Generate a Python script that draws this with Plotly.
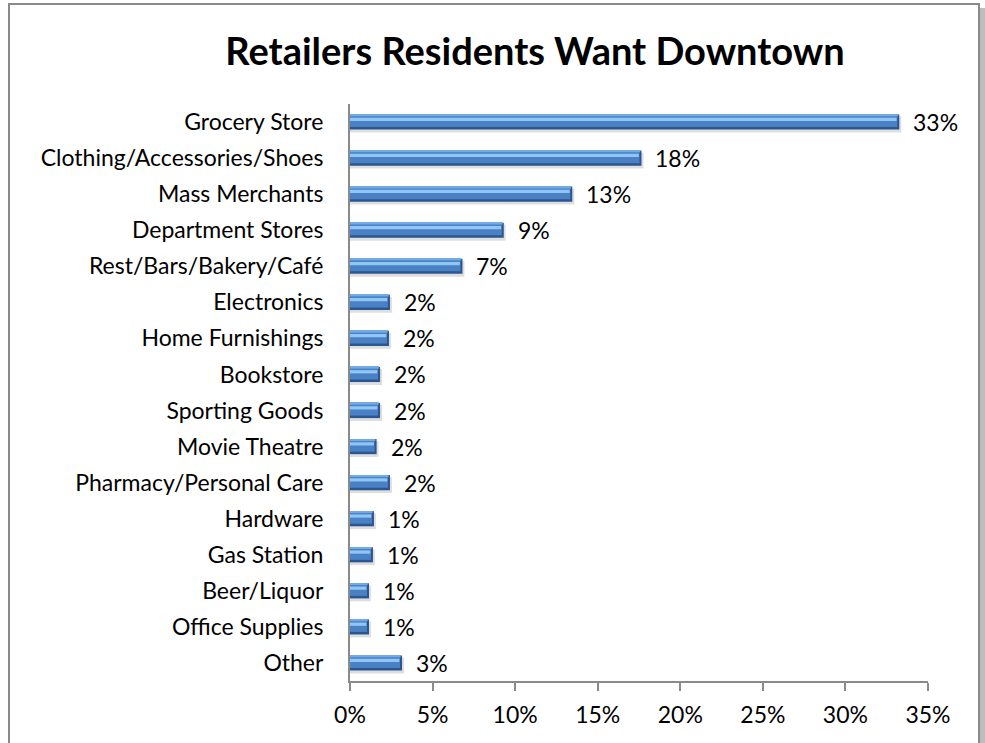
import plotly.graph_objects as go

# Survey results: share of residents naming each retailer type
categories = [
    "Grocery Store", "Clothing/Accessories/Shoes", "Mass Merchants",
    "Department Stores", "Rest/Bars/Bakery/Café", "Electronics",
    "Home Furnishings", "Bookstore", "Sporting Goods", "Movie Theatre",
    "Pharmacy/Personal Care", "Hardware", "Gas Station", "Beer/Liquor",
    "Office Supplies", "Other",
]
shares = [0.3326, 0.1765, 0.1346, 0.0931, 0.0681, 0.0242, 0.0236, 0.0182,
          0.0182, 0.0161, 0.0242, 0.0145, 0.0139, 0.0115, 0.0115, 0.0315]
x_ticks = [0, 0.05, 0.10, 0.15, 0.20, 0.25, 0.30, 0.35]
x_tick_labels = ["0%", "5%", "10%", "15%", "20%", "25%", "30%", "35%"]

W, H = 985, 743
L, R, T, B = 350, 57, 104, 62
FONT = "Lato"
FS = 23

pos = list(range(len(categories)))

def px_x(px):
    return (px - L) / (W - L - R)

def px_y(py):
    return 1 - (py - T) / (H - T - B)

fig = go.Figure()

# Layered bars give the bevelled, shaded look
layers = [
    # (colour, offset, width, x-trim)
    ("rgba(0,0,0,0.13)", -0.15, 0.44, -0.0012),   # drop shadow
    ("#2B5690", -0.21, 0.42, 0.0),                 # dark rim
    ("#4A80C4", -0.17, 0.31, 0.0012),              # body
    ("#72AAE6", -0.21, 0.05, 0.0008),              # top bevel
    ("#8FC6F5", -0.12, 0.09, 0.0016),              # highlight band
]
for colour, off, wid, trim in layers:
    fig.add_trace(go.Bar(
        x=[max(v - trim, 0) for v in shares],
        y=pos,
        orientation="h",
        offset=off,
        width=wid,
        marker=dict(color=colour, line=dict(width=0)),
        hoverinfo="skip",
        showlegend=False,
    ))

# Value labels beside each bar
for v, p in zip(shares, pos):
    fig.add_annotation(
        x=v, y=p, text=f"{v:.0%}", showarrow=False,
        xanchor="left", yanchor="middle", xshift=12,
        font=dict(family=FONT, size=FS, color="black"),
    )

# Outer frame with a soft shadow on the right
fig.add_shape(type="rect", xref="paper", yref="paper",
              x0=px_x(980), x1=px_x(985), y0=px_y(760), y1=px_y(8),
              fillcolor="#bdbdbd", line=dict(width=0), layer="below")
fig.add_shape(type="rect", xref="paper", yref="paper",
              x0=px_x(9), x1=px_x(979), y0=px_y(760), y1=px_y(4),
              line=dict(color="#8a8a8a", width=2), fillcolor="rgba(0,0,0,0)")

fig.update_layout(
    width=W, height=H,
    margin=dict(l=L, r=R, t=T, b=B),
    paper_bgcolor="white",
    plot_bgcolor="white",
    barmode="overlay",
    title=dict(
        text="<b>Retailers Residents Want Downtown</b>",
        x=px_x(535), xref="paper", xanchor="center",
        y=1 - 52 / H, yanchor="middle",
        font=dict(family=FONT, size=38, color="black"),
    ),
    xaxis=dict(
        range=[0, 0.35], tickvals=x_ticks, ticktext=x_tick_labels,
        showgrid=False, zeroline=False,
        showline=True, linecolor="#8a8a8a", linewidth=2,
        ticks="outside", ticklen=8, tickwidth=2, tickcolor="#8a8a8a",
        ticklabelstandoff=4,
        tickfont=dict(family=FONT, size=FS, color="black"),
    ),
    yaxis=dict(
        range=[len(categories) - 0.5, -0.5],
        tickvals=pos, ticktext=categories,
        showgrid=False, zeroline=False,
        showline=True, linecolor="#8a8a8a", linewidth=2,
        ticks="", ticklabelstandoff=20,
        tickfont=dict(family=FONT, size=FS, color="black"),
    ),
)

fig.write_html("out.html")
